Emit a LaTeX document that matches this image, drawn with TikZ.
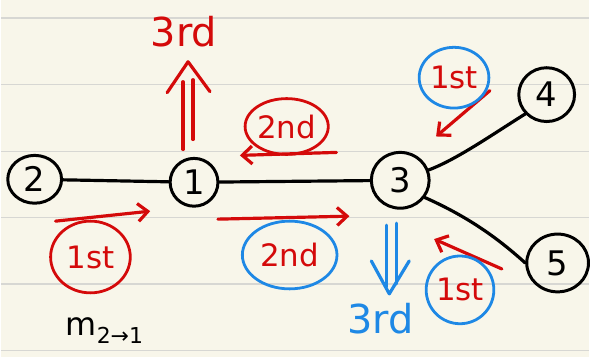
\documentclass[tikz,border=0pt]{standalone}
\usepackage{fontspec}
\setmainfont{DejaVu Sans}
\usetikzlibrary{arrows.meta,shapes.geometric}
\definecolor{paper}{HTML}{F8F6EA}
\definecolor{ruling}{HTML}{D7D7D3}
\definecolor{redpen}{HTML}{D40A0A}
\definecolor{bluepen}{HTML}{1E88E5}
\begin{document}
\begin{tikzpicture}[x=1pt,y=-1pt,
  ink/.style={line width=3.2pt, line cap=round, line join=round},
  vertex/.style={draw, ellipse, line width=3pt, inner sep=0pt,
    minimum width=50pt, minimum height=46pt, font=\fontsize{34}{34}\selectfont},
  msg/.style={ink, redpen, -{Straight Barb[length=10pt,width=18pt,line width=3.2pt]}},
  ring/.style={draw, ellipse, line width=2.8pt, inner sep=0pt, text=redpen,
    font=\fontsize{31}{31}\selectfont},
  order/.style={font=\fontsize{40}{40}\selectfont, inner sep=0pt}
]
% paper and ruling
\fill[paper] (0,0) rectangle (590,358);
\foreach \yy in {18,85,152,218.5,285,352}
  \draw[ruling, line width=1.6pt] (0,\yy) -- (590,\yy);

% vertices
\node[vertex, minimum width=54pt, minimum height=48pt] (n2) at (34,180) {2};
\node[vertex, minimum width=48pt, minimum height=48pt] (n1) at (194,183) {1};
\node[vertex, minimum width=58pt, minimum height=56pt] (n3) at (401,181) {3};
\node[vertex, minimum width=56pt, minimum height=54pt] (n4) at (548,95) {4};
\node[vertex, minimum width=62pt, minimum height=58pt] (n5) at (559,264) {5};

% edges
\draw[ink] (n2) -- (n1);
\draw[ink] (n1) -- (n3);
\draw[ink] (n3.20) .. controls (458,160) and (495,134) .. (n4.222);
\draw[ink] (n3.-35) .. controls (470,218) and (500,240) .. (n5.west);

% messages 2 -> 1 and 1 -> 3
\coordinate (p1s) at (55,222);
\coordinate (p1e) at (150,212);
\draw[msg] (p1s) -- (p1e);
\node[ring, draw=redpen, minimum width=80pt, minimum height=72pt] (r1) at (90,258) {1st};

\coordinate (p2s) at (218,220);
\coordinate (p2e) at (350,217);
\draw[msg] (p2s) -- (p2e);
\node[ring, draw=bluepen, minimum width=95pt, minimum height=68pt] (r2) at (290,256) {2nd};

% messages 3 -> 1
\coordinate (p3s) at (337,153);
\coordinate (p3e) at (240,156);
\draw[msg] (p3s) -- (p3e);
\node[ring, draw=redpen, minimum width=77pt, minimum height=56pt] (r3) at (287,127) {2nd};

% messages 4 -> 3 and 5 -> 3
\coordinate (p4s) at (491,91);
\coordinate (p4e) at (437,137);
\draw[msg] (p4s) -- (p4e);
\node[ring, draw=bluepen, minimum width=70pt, minimum height=61pt] (r4) at (455,78) {1st};

\coordinate (p5s) at (503,270);
\coordinate (p5e) at (435,240);
\draw[msg] (p5s) -- (p5e);
\node[ring, draw=bluepen, minimum width=67pt, minimum height=68pt] (r5) at (461,291) {1st};

% third round, upwards from 1
\node[order, text=redpen] (t1) at (184,32) {3rd};
\draw[ink, redpen] (183,150) -- (183,82);
\draw[ink, redpen] (193,140) -- (193,80);
\draw[ink, redpen] (167,93) -- (188,62) -- (210,92);

% third round, downwards from 3
\node[order, text=bluepen] (t3) at (381,320) {3rd};
\draw[ink, bluepen] (387,226) -- (387,288);
\draw[ink, bluepen] (397,224) -- (397,285);
\draw[ink, bluepen] (372,262) -- (390,295) -- (410,262);

% message name
\node[font=\fontsize{32}{32}\selectfont, inner sep=0pt] (mname) at (104,332)
  {m\raisebox{-8pt}{\fontsize{22}{22}\selectfont 2→1}};
\end{tikzpicture}
\end{document}
